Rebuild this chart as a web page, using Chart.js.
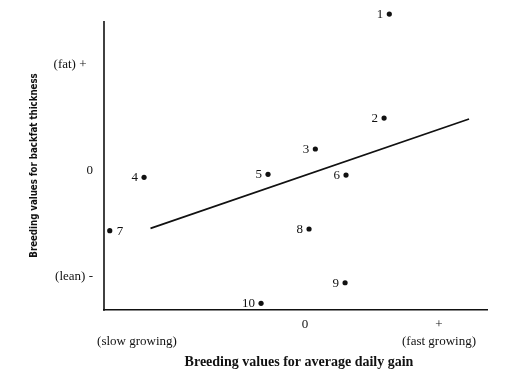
<!DOCTYPE html>
<html>
<head>
<meta charset="utf-8">
<script src="https://cdn.jsdelivr.net/npm/chart.js@4/dist/chart.umd.min.js"></script>
<style>
html,body{margin:0;padding:0;background:#ffffff;}
#wrap{width:518px;height:379px;position:relative;}
</style>
</head>
<body>
<div id="wrap"><canvas id="c" width="518" height="379"></canvas></div>
<script>
// ---- data ----
const pointLabels   = ['1','2','3','4','5','6','7','8','9','10'];
const gainValues    = [0.629, 0.590, 0.077, -1.201, -0.276, 0.306, -1.457, 0.030, 0.299, -0.328];
const backfatValues = [1.481, 0.500, 0.208, -0.059, -0.031, -0.038, -0.563, -0.547, -1.054, -1.248];
const labelSides    = ['left','left','left','left','left','left','right','left','left','left'];
const trendGain     = [-1.153, 1.224];
const trendBackfat  = [-0.541, 0.491];
const xTickValues   = [-1.254, 0, 1];
const xTickLabels   = [['', '(slow growing)'], '0', ['+', '(fast growing)']];
const yTickValues   = [-1, 0, 1];
const yTickLabels   = ['(lean) -', '0', '(fat) +\u2002'];
const yAxisTopValue = 1.415;
const xTitle = '\u2002Breeding values for average daily gain';
const yTitle = 'Breeding values for backfat thickness\u2003\u2002';

const points = gainValues.map((g, i) => ({x: g, y: backfatValues[i]}));
const trend = trendGain.map((g, i) => ({x: g, y: trendBackfat[i]}));

const axisPlugin = {
  id: 'yAxisLine',
  beforeDatasetsDraw(chart) {
    const y = chart.scales.y;
    const ctx = chart.ctx;
    const x0 = chart.chartArea.left;
    ctx.save();
    ctx.strokeStyle = '#111';
    ctx.lineWidth = 1.6;
    ctx.beginPath();
    ctx.moveTo(x0, y.getPixelForValue(yAxisTopValue));
    ctx.lineTo(x0, chart.chartArea.bottom + 0.8);
    ctx.stroke();
    ctx.restore();
  }
};

const labelPlugin = {
  id: 'pointNumbers',
  afterDatasetsDraw(chart) {
    const meta = chart.getDatasetMeta(0);
    const ctx = chart.ctx;
    ctx.save();
    ctx.font = '13px "Liberation Serif", "DejaVu Serif", serif';
    ctx.fillStyle = '#111';
    ctx.textBaseline = 'middle';
    meta.data.forEach((el, i) => {
      if (labelSides[i] === 'right') {
        ctx.textAlign = 'left';
        ctx.fillText(pointLabels[i], el.x + 7, el.y + 0.5);
      } else {
        ctx.textAlign = 'right';
        ctx.fillText(pointLabels[i], el.x - 6, el.y + 0.5);
      }
    });
    ctx.restore();
  }
};

const serif = '"Liberation Serif", "DejaVu Serif", serif';

function noPad(scale) {
  scale.paddingTop = 0; scale.paddingBottom = 0;
  scale.paddingLeft = 0; scale.paddingRight = 0;
}

new Chart(document.getElementById('c'), {
  type: 'scatter',
  data: {
    datasets: [
      {
        type: 'scatter',
        data: points,
        pointRadius: 2.6,
        pointHoverRadius: 2.6,
        backgroundColor: '#111',
        borderColor: '#111',
        borderWidth: 0
      },
      {
        type: 'line',
        data: trend,
        borderColor: '#111',
        borderWidth: 1.7,
        pointRadius: 0,
        fill: false,
        tension: 0
      }
    ]
  },
  plugins: [axisPlugin, labelPlugin],
  options: {
    responsive: false,
    animation: false,
    events: [],
    layout: {padding: {top: 8, right: 31, left: 0, bottom: 0}},
    plugins: {legend: {display: false}, tooltip: {enabled: false}},
    scales: {
      x: {
        type: 'linear',
        min: -1.5,
        max: 1.358,
        grid: {display: false, drawTicks: false},
        border: {display: true, color: '#111', width: 1.6},
        afterBuildTicks(scale) { scale.ticks = xTickValues.map(v => ({value: v})); },
        afterFit(scale) { scale.height = 69; noPad(scale); },
        ticks: {
          color: '#111',
          padding: 6,
          maxRotation: 0,
          autoSkip: false,
          font: {family: serif, size: 13, lineHeight: 1.3},
          callback(value, index) { return xTickLabels[index]; }
        },
        title: {
          display: true,
          text: xTitle,
          color: '#111',
          font: {family: serif, size: 14, weight: 'bold', lineHeight: 1.2},
          padding: {top: 0, bottom: 8}
        }
      },
      y: {
        type: 'linear',
        min: -1.311,
        max: 1.538,
        grid: {display: false, drawTicks: false},
        border: {display: false},
        afterBuildTicks(scale) { scale.ticks = yTickValues.map(v => ({value: v})); },
        afterFit(scale) { scale.width = 104; noPad(scale); },
        ticks: {
          color: '#111',
          padding: 11,
          autoSkip: false,
          font: {family: serif, size: 13, lineHeight: 1.2},
          callback(value, index) { return yTickLabels[index]; }
        },
        title: {
          display: true,
          text: yTitle,
          color: '#111',
          font: {family: '"Liberation Sans Narrow", "DejaVu Sans Condensed", "Liberation Sans", sans-serif', size: 9.6, weight: 'bold', lineHeight: 1.2},
          padding: {top: 29, bottom: 0}
        }
      }
    }
  }
});
</script>
</body>
</html>
